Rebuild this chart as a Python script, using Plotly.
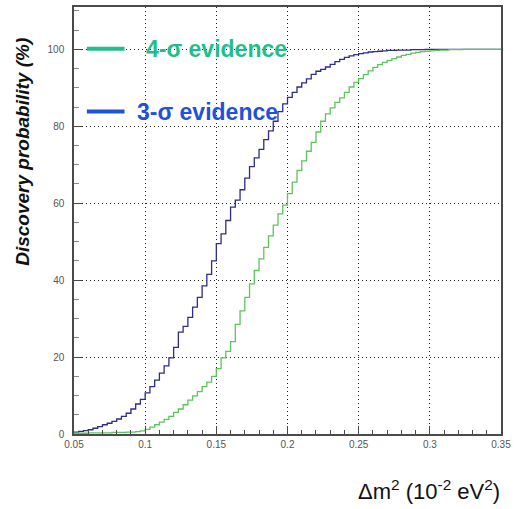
import numpy as np
import plotly.graph_objects as go

# Histogram binning: 90 equal bins between 0.05 and 0.35 (units of 1e-2 eV^2)
X_MIN, X_MAX, N_BINS = 0.05, 0.35, 90

# Cumulative discovery probability (%) per bin, 3-sigma evidence
prob_3sigma = [
    0.5, 0.7, 0.9, 1.1, 1.5, 1.9, 2.4, 2.8, 3.3, 3.9,
    4.6, 5.4, 6.5, 7.8, 9.0, 10.7, 12.3, 14.0, 15.8, 17.7,
    19.8, 22.5, 26.5, 28.0, 30.3, 33.0, 35.5, 38.5, 41.5, 45.0,
    49.5, 52.0, 55.5, 59.0, 60.8, 63.5, 66.5, 69.5, 71.8, 74.0,
    76.5, 78.8, 81.3, 83.8, 85.8, 87.5, 88.8, 90.2, 91.3, 92.3,
    93.5, 94.3, 94.8, 95.4, 96.1, 96.8, 97.4, 97.9, 98.3, 98.6,
    98.9, 99.1, 99.3, 99.4, 99.5, 99.6, 99.7, 99.7, 99.8, 99.8,
    99.8, 99.9, 99.9, 99.9, 100, 100, 100, 100, 100, 100,
    100, 100, 100, 100, 100, 100, 100, 100, 100, 100,
]

# Cumulative discovery probability (%) per bin, 4-sigma evidence
prob_4sigma = [
    0.2, 0.2, 0.2, 0.3, 0.3, 0.3, 0.3, 0.3, 0.4, 0.4,
    0.4, 0.5, 0.5, 0.6, 0.8, 1.2, 1.8, 2.4, 3.1, 3.8,
    4.6, 5.6, 6.5, 7.6, 8.8, 9.9, 11.0, 12.3, 13.5, 15.0,
    17.0, 19.8, 21.5, 24.0, 28.5, 32.0, 35.5, 39.0, 42.5, 45.5,
    48.5, 51.5, 54.3, 57.2, 59.5, 62.5, 65.5, 68.5, 71.0, 73.5,
    75.8, 78.5, 81.3, 83.2, 84.8, 86.2, 87.4, 88.8, 90.2, 91.4,
    92.4, 93.4, 94.4, 95.3, 96.0, 96.6, 97.1, 97.6, 98.0, 98.4,
    98.7, 99.0, 99.2, 99.4, 99.5, 99.6, 99.7, 99.8, 99.8, 99.9,
    99.9, 99.9, 100, 100, 100, 100, 100, 100, 100, 100,
]

x_tick_vals = [0.05, 0.1, 0.15, 0.2, 0.25, 0.3, 0.35]
x_tick_text = ["0.05", "0.1", "0.15", "0.2", "0.25", "0.3", "0.35"]
y_tick_vals = [0, 20, 40, 60, 80, 100]
y_tick_text = ["0", "20", "40", "60", "80", "100"]

legend_labels = ["4-σ evidence", "3-σ evidence"]

COL_3S = "#2c2c8e"
COL_4S = "#5cc55c"
COL_TXT_4S = "#1fbf8c"
COL_TXT_3S = "#1f52d8"

edges = np.linspace(X_MIN, X_MAX, N_BINS + 1)


def step_xy(values):
    # left edges with 'hv' shape, closed at the final bin edge
    xs = list(edges)
    ys = list(values) + [values[-1]]
    return xs, ys


fig = go.Figure()
for vals, col in [(prob_3sigma, COL_3S), (prob_4sigma, COL_4S)]:
    xs, ys = step_xy(vals)
    fig.add_trace(go.Scatter(
        x=xs, y=ys, mode="lines", line=dict(color=col, width=1.3, shape="hv"),
        showlegend=False, hoverinfo="skip",
    ))

axis_common = dict(
    showline=True, mirror=True, linecolor="#4a4a4a", linewidth=1.5,
    ticks="inside", ticklen=8, tickcolor="#4a4a4a", tickwidth=1,
    showgrid=True, gridcolor="#222222", gridwidth=1, griddash="1px,3px",
    zeroline=False,
    tickfont=dict(family="Liberation Sans, Arial", size=10, color="#555555"),
)

fig.update_xaxes(
    range=[X_MIN, X_MAX], tickvals=x_tick_vals, ticktext=x_tick_text,
    minor=dict(dtick=0.01, tick0=0.05, ticks="inside", ticklen=4,
               tickcolor="#4a4a4a", showgrid=False),
    **axis_common,
)
fig.update_yaxes(
    range=[0, 111], tickvals=y_tick_vals, ticktext=y_tick_text,
    ticklabelstandoff=6,
    minor=dict(dtick=5, tick0=0, ticks="inside", ticklen=5,
               tickcolor="#8a8a8a", showgrid=False),
    **axis_common,
)

L, R, T, B = 74, 11, 5, 75
W, H = 516, 509
pw, ph = W - L - R, H - T - B


def px_to_paper(px, py):
    return (px - L) / pw, (H - B - py) / ph


# legend line segments
for (py, col) in [(47, COL_TXT_4S), (110, COL_TXT_3S)]:
    x0, y0 = px_to_paper(87, py)
    x1, _ = px_to_paper(125, py)
    fig.add_shape(type="line", xref="paper", yref="paper",
                  x0=x0, x1=x1, y0=y0, y1=y0,
                  line=dict(color=col, width=4))

# legend texts
for (px, py, txt, col) in [(145, 47, legend_labels[0], COL_TXT_4S),
                           (136, 110, legend_labels[1], COL_TXT_3S)]:
    ax, ay = px_to_paper(px, py)
    fig.add_annotation(xref="paper", yref="paper", x=ax, y=ay,
                       xanchor="left", yanchor="middle", showarrow=False,
                       text="<b>" + txt + "</b>",
                       font=dict(family="Liberation Sans, Arial", size=23, color=col))

# axis titles
tx, ty = px_to_paper(22, 150)
fig.add_annotation(xref="paper", yref="paper", x=tx, y=ty, textangle=-90,
                   xanchor="center", yanchor="middle", showarrow=False,
                   text="<b><i>Discovery probability (%)</i></b>",
                   font=dict(family="Liberation Sans, Arial", size=19, color="#111111"))
bx, by = px_to_paper(506, 490)
fig.add_annotation(xref="paper", yref="paper", x=bx, y=by,
                   xanchor="right", yanchor="middle", showarrow=False,
                   text="Δm<sup>2</sup> (10<sup>-2</sup> eV<sup>2</sup>)",
                   font=dict(family="Liberation Sans, Arial", size=22, color="#111111"))

fig.update_layout(
    width=W, height=H,
    margin=dict(l=L, r=R, t=T, b=B),
    paper_bgcolor="white", plot_bgcolor="white",
    showlegend=False,
)

fig.write_html("out.html")
